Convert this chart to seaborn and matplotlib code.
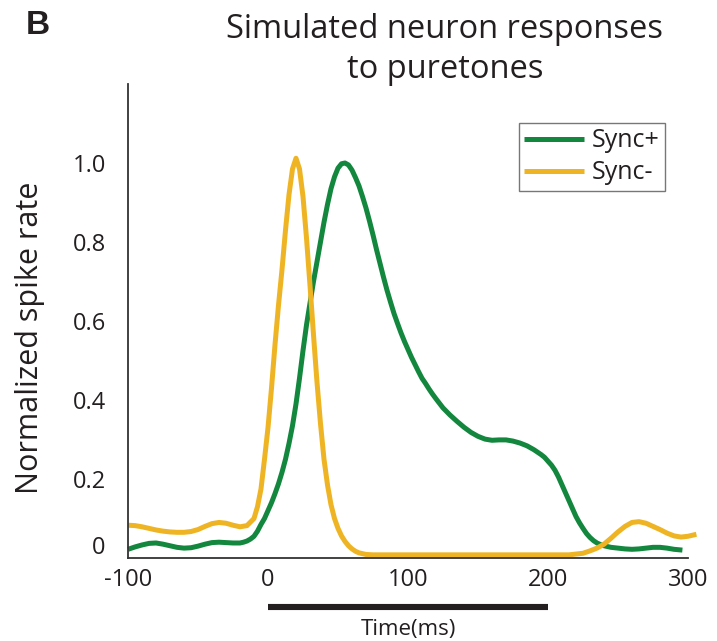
import numpy as np
import pandas as pd
import matplotlib
matplotlib.use("Agg")
import matplotlib.pyplot as plt
import matplotlib.transforms as mtransforms
import seaborn as sns

# ---------------- data ----------------
sync_plus_t = [-100, -95, -90, -85, -80, -75, -70, -65, -60, -55, -50, -45, -40, -35, -30, -25,
               -20, -17.5, -15, -12.5, -10, -7.5, -5, -2.5, 0, 2.5, 5, 7.5, 10, 12.5, 15, 17.5,
               20, 22.5, 25, 27.5, 30, 32.5, 35, 37.5, 40, 42.5, 45, 47.5, 50, 52.5, 55, 57.5,
               60, 62.5, 65, 67.5, 70, 72.5, 75, 77.5, 80, 82.5, 85, 87.5, 90, 92.5, 95, 97.5,
               100, 102.5, 105, 107.5, 110, 112.5, 115, 117.5, 120, 125, 130, 135, 140, 145, 150,
               155, 160, 165, 170, 175, 180, 185, 190, 195, 197.5, 200, 202.5, 205, 207.5, 210,
               212.5, 215, 217.5, 220, 222.5, 225, 227.5, 230, 232.5, 235, 237.5, 240, 245, 250,
               255, 260, 265, 270, 275, 280, 285, 290, 296]
sync_plus_v = [0.022, 0.028, 0.033, 0.037, 0.038, 0.035, 0.031, 0.027, 0.025, 0.026, 0.030, 0.035,
               0.039, 0.040, 0.039, 0.038, 0.038, 0.040, 0.043, 0.048, 0.055, 0.068, 0.085, 0.100,
               0.120, 0.140, 0.163, 0.188, 0.217, 0.250, 0.290, 0.335, 0.390, 0.455, 0.525, 0.590,
               0.645, 0.700, 0.750, 0.800, 0.850, 0.895, 0.935, 0.965, 0.987, 0.998, 1.000, 0.995,
               0.982, 0.963, 0.942, 0.915, 0.886, 0.853, 0.818, 0.781, 0.746, 0.711, 0.678, 0.648,
               0.619, 0.594, 0.570, 0.548, 0.528, 0.508, 0.490, 0.472, 0.455, 0.442, 0.428, 0.415,
               0.403, 0.380, 0.362, 0.346, 0.331, 0.318, 0.308, 0.301, 0.298, 0.299, 0.299, 0.296,
               0.291, 0.284, 0.274, 0.262, 0.255, 0.245, 0.235, 0.222, 0.205, 0.185, 0.165, 0.145,
               0.125, 0.105, 0.089, 0.075, 0.062, 0.052, 0.044, 0.038, 0.034, 0.031, 0.027, 0.025,
               0.023, 0.022, 0.023, 0.025, 0.027, 0.027, 0.025, 0.022, 0.020]

sync_minus_t = [-100, -95, -90, -85, -80, -75, -70, -65, -60, -55, -50, -45, -40, -35, -30, -25,
                -20, -15, -10, -7.5, -5, -2.5, 0, 2.5, 5, 7.5, 10, 12.5, 15, 17.5, 20, 22.5, 25,
                27.5, 30, 32.5, 35, 37.5, 40, 42.5, 45, 47.5, 50, 52.5, 55, 57.5, 60, 62.5, 65,
                67.5, 70, 75, 100, 150, 200, 215, 220, 225, 230, 235, 240, 245, 250, 255, 260, 265,
                270, 275, 280, 285, 290, 295, 300, 306]
sync_minus_v = [0.083, 0.082, 0.079, 0.075, 0.071, 0.068, 0.066, 0.065, 0.065, 0.067, 0.072, 0.080,
                0.087, 0.090, 0.088, 0.083, 0.079, 0.082, 0.100, 0.130, 0.175, 0.250, 0.330, 0.430,
                0.540, 0.640, 0.730, 0.830, 0.920, 0.985, 1.012, 0.985, 0.915, 0.810, 0.690, 0.565,
                0.445, 0.340, 0.250, 0.185, 0.135, 0.100, 0.075, 0.056, 0.042, 0.031, 0.023, 0.017,
                0.013, 0.011, 0.009, 0.008, 0.008, 0.008, 0.008, 0.008, 0.010, 0.012, 0.018, 0.025,
                0.035, 0.050, 0.066, 0.080, 0.090, 0.092, 0.088, 0.080, 0.072, 0.063, 0.056, 0.053,
                0.055, 0.060]

series_names = ["Sync+", "Sync-"]
series_colors = ["#13873d", "#efb423"]
x_ticks = [-100, 0, 100, 200, 300]
y_ticks = [0, 0.2, 0.4, 0.6, 0.8, 1.0, 1.2]
y_tick_labels = ["0", "0.2", "0.4", "0.6", "0.8", "1.0", ""]
stim_on, stim_off = 0, 200

# ---------------- figure ----------------
sns.set_style("white")
plt.rcParams["font.family"] = ["Open Sans", "DejaVu Sans"]
TXT = "#231f20"

df = pd.concat([
    pd.DataFrame({"t": sync_plus_t, "v": sync_plus_v, "s": series_names[0]}),
    pd.DataFrame({"t": sync_minus_t, "v": sync_minus_v, "s": series_names[1]}),
], ignore_index=True)

fig = plt.figure(figsize=(7.17, 6.41), dpi=100)
ax = fig.add_axes([128 / 717, 1 - 558 / 641, 560 / 717, 474 / 641])

sns.lineplot(data=df, x="t", y="v", hue="s", palette=dict(zip(series_names, series_colors)),
             linewidth=3.6, ax=ax, sort=False, estimator=None)
for ln in ax.lines:
    ln.set_clip_on(False)
    ln.set_solid_joinstyle("round")
    ln.set_solid_capstyle("butt")

ax.set_xlim(-100, 300)
ax.set_ylim(0, 1.2)
ax.set_xticks(x_ticks)
ax.set_xticklabels([str(v) for v in x_ticks])
ax.set_yticks(y_ticks)
ax.set_yticklabels(y_tick_labels)
ax.tick_params(axis="both", direction="in", length=6, width=1.2, colors="#333333",
               labelcolor=TXT, labelsize=17)
ax.tick_params(axis="y", pad=16)
ax.tick_params(axis="x", pad=7)
for side in ["top", "right"]:
    ax.spines[side].set_visible(False)
for side in ["left", "bottom"]:
    ax.spines[side].set_color("#333333")
    ax.spines[side].set_linewidth(1.3)
ax.set_xlabel("")
ax.set_ylabel("")

# lift the "0" y-tick label slightly, as in the reference
zero_lbl = ax.get_yticklabels()[0]
zero_lbl.set_transform(zero_lbl.get_transform() +
                       mtransforms.ScaledTranslation(0, 9 / 72, fig.dpi_scale_trans))

# legend
leg = ax.legend(loc="upper right", bbox_to_anchor=(0.959, 0.918), fontsize=18, frameon=True,
                fancybox=False, handlelength=2.4, handletextpad=0.3, borderpad=0.22,
                labelspacing=0.28, borderaxespad=0)
leg.get_frame().set_edgecolor("#555555")
leg.get_frame().set_linewidth(1.0)
for txt in leg.get_texts():
    txt.set_color(TXT)
for h in leg.get_lines():
    h.set_linewidth(3.6)

# stimulus bar and x label
ax.plot([stim_on, stim_off], [-0.124, -0.124], color="#231f20", lw=4.4, clip_on=False,
        solid_capstyle="butt")
ax.text(100, -0.18, "Time(ms)", ha="center", va="center", fontsize=16, color=TXT)

# texts
fig.text(445 / 717, 1 - 13 / 641, "Simulated neuron responses\nto puretones", ha="center", va="top",
         fontsize=23.5, color=TXT, linespacing=1.3)
fig.text(38 / 717, 1 - 26 / 641, "B", ha="center", va="center", fontsize=24, fontweight="bold",
         color=TXT, family=["Liberation Sans", "DejaVu Sans"])
fig.text(30 / 717, 1 - 338 / 641, "Normalized spike rate", ha="center", va="center", rotation=90,
         fontsize=22, color=TXT)

fig.savefig("out.png", dpi=100)
